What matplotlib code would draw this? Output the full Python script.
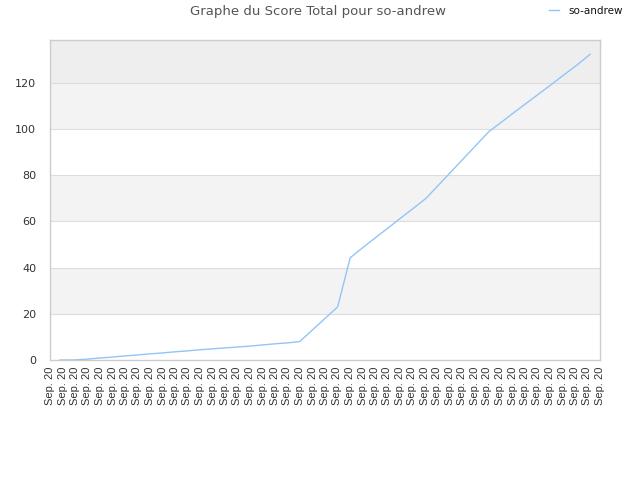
import matplotlib
matplotlib.use("Agg")
import matplotlib.pyplot as plt
import numpy as np

# total score per update
scores = [0, 0, 0.3, 0.8, 1.2, 1.7, 2.1, 2.6, 3.0, 3.5,
          3.9, 4.4, 4.8, 5.2, 5.6, 6.0, 6.5, 7.0, 7.4, 8.0,
          13.0, 18.0, 23.0, 44.3, 48.7, 53.0, 57.2, 61.5, 65.7, 70.0,
          75.8, 81.6, 87.4, 93.2, 99.0, 103.1, 107.3, 111.4, 115.5, 119.6,
          123.8, 127.9, 132.4]
tick_labels = ["Sep. 20"] * 45
series_name = "so-andrew"
title = "Graphe du Score Total pour so-andrew"

fig = plt.figure(figsize=(6.4, 4.8), dpi=100)
ax = fig.add_axes([50/640, 120/480, 550/640, 320/480])

x = np.arange(len(scores))
ax.set_xlim(-0.79, len(scores) - 1 + 0.79)
ax.set_ylim(0, 138.6)

# alternating bands
bands = [(0, 20, "#ffffff"), (20, 40, "#f3f3f3"), (40, 60, "#ffffff"),
         (60, 80, "#f3f3f3"), (80, 100, "#ffffff"), (100, 120, "#f3f3f3"),
         (120, 140, "#eeeeee")]
for lo, hi, c in bands:
    ax.axhspan(lo, hi, color=c, zorder=0, lw=0)
for yv in range(20, 140, 20):
    ax.axhline(yv, color="#dddddd", lw=0.8, zorder=1)

ax.plot(x, scores, color="#92c5f5", lw=1.0, label=series_name, zorder=3)

ax.set_yticks(range(0, 140, 20))
ax.tick_params(axis="y", length=0, labelsize=8, labelcolor="#333333", pad=10)
ax.set_xticks(np.linspace(-0.79, len(scores) - 1 + 0.79, len(tick_labels)))
ax.set_xticklabels(tick_labels, rotation=90, fontsize=8, color="#333333",
                   family="Liberation Sans")
ax.tick_params(axis="x", length=0, pad=5)

for s in ax.spines.values():
    s.set_color("#cccccc")
    s.set_linewidth(1)

fig.text(0.497, 0.99, title, ha="center", va="top", fontsize=9.5,
         color="#555555")
fig.legend(loc="upper right", bbox_to_anchor=(0.988, 1.008), frameon=False,
           fontsize=7.5, handlelength=1.0, handletextpad=0.9,
           labelcolor="#111111")

fig.savefig("out.png", dpi=100)
